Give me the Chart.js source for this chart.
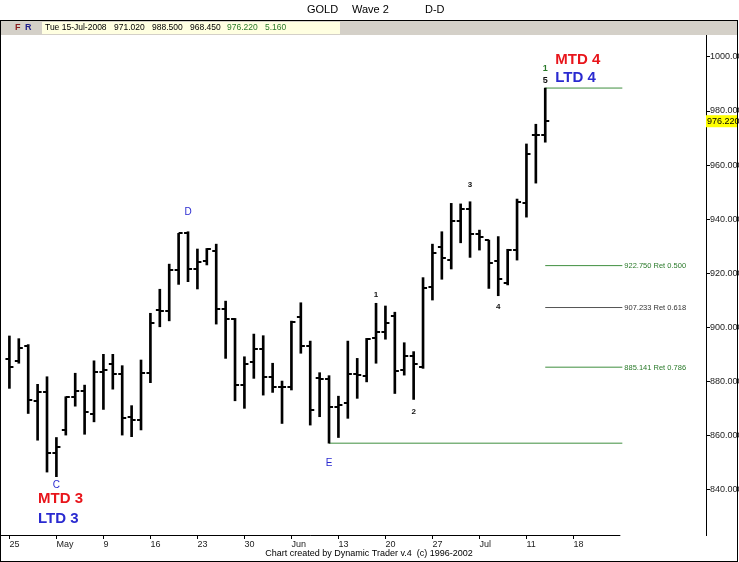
<!DOCTYPE html>
<html>
<head>
<meta charset="utf-8">
<script src="https://cdn.jsdelivr.net/npm/chart.js@4.4.1/dist/chart.umd.min.js"></script>
<style>
  html, body { margin: 0; padding: 0; background: #fff; }
  #wrap { width: 739px; height: 562px; position: relative; }
</style>
</head>
<body>
<div id="wrap"><canvas id="gold" width="739" height="562"></canvas></div>
<script>
// Daily bars, 25-Apr-2008 .. 15-Jul-2008
const dates = [
    '25-Apr', '28-Apr', '29-Apr', '30-Apr', '01-May', '02-May',
    '05-May', '06-May', '07-May', '08-May', '09-May',
    '12-May', '13-May', '14-May', '15-May', '16-May',
    '19-May', '20-May', '21-May', '22-May', '23-May',
    '26-May', '27-May', '28-May', '29-May', '30-May',
    '02-Jun', '03-Jun', '04-Jun', '05-Jun', '06-Jun',
    '09-Jun', '10-Jun', '11-Jun', '12-Jun', '13-Jun',
    '16-Jun', '17-Jun', '18-Jun', '19-Jun', '20-Jun',
    '23-Jun', '24-Jun', '25-Jun', '26-Jun', '27-Jun',
    '30-Jun', '01-Jul', '02-Jul', '03-Jul', '04-Jul',
    '07-Jul', '08-Jul', '09-Jul', '10-Jul', '11-Jul',
    '14-Jul', '15-Jul'
];
const opens = [
    888.0, 887.5, 893.0, 872.7, 875.9, 853.4,
    861.9, 874.0, 876.4, 867.7, 883.5,
    886.2, 882.5, 866.8, 865.6, 883.0,
    906.5, 906.0, 921.1, 934.7, 921.4,
    924.6, 928.1, 906.6, 902.9, 878.6,
    887.2, 891.7, 881.6, 877.7, 877.9,
    903.8, 893.0, 881.2, 880.6, 870.5,
    871.7, 882.5, 882.0, 895.8, 898.3,
    904.1, 884.1, 889.3, 885.3, 914.9,
    929.5, 925.0, 939.4, 943.7, 934.3,
    932.2, 924.6, 916.2, 928.5, 946.1,
    971.0, 971.02
];
const highs = [
    896.7, 895.7, 893.5, 878.8, 881.6, 859.1,
    874.2, 882.9, 878.5, 887.5, 889.9,
    889.9, 885.7, 870.9, 887.8, 905.1,
    914.0, 923.3, 934.7, 935.3, 928.9,
    929.1, 930.7, 909.6, 903.2, 889.0,
    897.4, 896.8, 886.6, 880.0, 902.2,
    909.0, 894.8, 883.1, 882.0, 874.4,
    894.8, 888.4, 895.8, 908.8, 907.8,
    905.5, 894.2, 890.9, 918.3, 930.7,
    935.3, 945.8, 945.6, 946.4, 935.9,
    932.2, 933.5, 928.8, 947.4, 967.8,
    975.1, 988.5
];
const lows = [
    877.3, 886.6, 868.0, 858.1, 846.3, 844.6,
    860.0, 870.7, 860.3, 864.9, 869.5,
    877.0, 860.0, 859.4, 861.9, 879.4,
    900.1, 902.3, 915.8, 916.8, 914.1,
    923.0, 901.1, 888.4, 872.7, 869.9,
    881.0, 874.8, 875.8, 864.3, 876.7,
    890.3, 863.7, 866.8, 857.0, 859.1,
    866.2, 873.6, 879.7, 886.6, 895.5,
    875.4, 882.2, 873.2, 884.7, 910.0,
    917.7, 921.5, 931.2, 925.8, 928.5,
    914.3, 911.6, 915.6, 924.8, 940.7,
    953.3, 968.45
];
const closes = [
    885.2, 892.3, 872.9, 875.9, 853.4, 855.6,
    874.0, 876.4, 868.4, 883.2, 884.0,
    882.5, 866.4, 865.6, 883.0, 901.4,
    906.0, 921.1, 934.7, 921.4, 924.2,
    928.8, 906.6, 902.9, 878.6, 886.3,
    891.7, 881.5, 877.7, 877.9, 901.7,
    893.0, 869.3, 880.6, 870.3, 871.0,
    882.5, 882.1, 895.7, 898.3, 901.4,
    883.8, 889.3, 886.2, 914.6, 927.3,
    925.4, 939.4, 943.7, 934.3, 933.4,
    923.6, 917.8, 928.5, 946.2, 964.0,
    971.0, 976.22
];
const netChange = 5.160;

// Friday ticks on the date axis
const tickIdx = [0, 5, 10, 15, 20, 25, 30, 35, 40, 45, 50, 55, 60];
const tickLabels = ['25', 'May', '9', '16', '23', '30', 'Jun', '13', '20', '27', 'Jul', '11', '18'];
const priceTicks = [840, 860, 880, 900, 920, 940, 960, 980, 1000];

// Swing E (low) to wave 5 (high) and its retracements
const swingLow = 857.0;
const swingHigh = 988.5;
const retLevels = [922.750, 907.233, 885.141];
const retRatios = ['0.500', '0.618', '0.786'];

const BLUE = '#2a2ad0';
const RED = '#e8151b';
const GREEN = '#3f8f3f';

function tickImg(left) {
    const c = document.createElement('canvas');
    c.width = 10; c.height = 2;
    const g = c.getContext('2d');
    g.fillStyle = '#000';
    g.fillRect(left ? 1 : 5, 0, 4, 2);
    return c;
}

function hline(y, x0, x1, color) {
    return {
        type: 'line',
        data: [{ x: x0, y: y }, { x: x1, y: y }],
        borderColor: color,
        borderWidth: 1,
        pointRadius: 0,
        fill: false
    };
}

const lineEnd = 65.2;

const datasets = [
    {
        type: 'bar',
        data: highs.map((h, i) => ({ x: i, y: [lows[i], h] })),
        backgroundColor: '#000',
        barThickness: 2
    },
    {
        type: 'scatter',
        data: opens.map((v, i) => ({ x: i, y: v })),
        pointStyle: tickImg(true)
    },
    {
        type: 'scatter',
        data: closes.map((v, i) => ({ x: i, y: v })),
        pointStyle: tickImg(false)
    },
    hline(swingHigh, 57, lineEnd, GREEN),
    hline(swingLow, 34, lineEnd, GREEN),
    hline(retLevels[0], 57, lineEnd, GREEN),
    hline(retLevels[1], 57, lineEnd, '#555'),
    hline(retLevels[2], 57, lineEnd, GREEN)
];

// wave labels: index, price, pixel offset, text, colour, font
const marks = [
    { i: 5, v: lows[5], dy: 9, t: 'C', c: BLUE, f: '10px "Liberation Sans"' },
    { i: 19, v: highs[19], dy: -19, t: 'D', c: BLUE, f: '10px "Liberation Sans"' },
    { i: 34, v: lows[34], dy: 20, t: 'E', c: BLUE, f: '10px "Liberation Sans"' },
    { i: 39, v: highs[39], dy: -8, t: '1', c: '#111', f: 'bold 8px "Liberation Sans"' },
    { i: 43, v: lows[43], dy: 12, t: '2', c: '#111', f: 'bold 8px "Liberation Sans"' },
    { i: 49, v: highs[49], dy: -17, t: '3', c: '#111', f: 'bold 8px "Liberation Sans"' },
    { i: 52, v: lows[52], dy: 11, t: '4', c: '#111', f: 'bold 8px "Liberation Sans"' },
    { i: 57, v: highs[57], dy: -20, t: '1', c: '#2a7a2a', f: 'bold 9px "Liberation Sans"' },
    { i: 57, v: highs[57], dy: -8, t: '5', c: '#111', f: 'bold 9px "Liberation Sans"' }
];

const overlay = {
    id: 'overlay',
    afterDraw(chart) {
        const ctx = chart.ctx;
        const xs = chart.scales.x;
        const ys = chart.scales.y;
        const area = chart.chartArea;
        ctx.save();

        // x axis line
        ctx.strokeStyle = '#000';
        ctx.lineWidth = 1;
        ctx.beginPath();
        ctx.moveTo(area.left, area.bottom + 0.5);
        ctx.lineTo(xs.getPixelForValue(lineEnd) - 2, area.bottom + 0.5);
        ctx.stroke();

        // wave labels
        ctx.textAlign = 'center';
        ctx.textBaseline = 'middle';
        marks.forEach(m => {
            ctx.font = m.f;
            ctx.fillStyle = m.c;
            ctx.fillText(m.t, xs.getPixelForValue(m.i), ys.getPixelForValue(m.v) + m.dy);
        });

        // MTD / LTD
        ctx.textAlign = 'left';
        ctx.font = 'bold 15px "Liberation Sans"';
        const x3 = 38;
        const y3 = ys.getPixelForValue(lows[5]);
        ctx.fillStyle = RED;  ctx.fillText('MTD 3', x3, y3 + 22);
        ctx.fillStyle = BLUE; ctx.fillText('LTD 3', x3, y3 + 42);
        const x4 = xs.getPixelForValue(57) + 10;
        const y4 = ys.getPixelForValue(highs[57]);
        ctx.fillStyle = RED;  ctx.fillText('MTD 4', x4, y4 - 28);
        ctx.fillStyle = BLUE; ctx.fillText('LTD 4', x4, y4 - 10);

        // retracement labels
        ctx.font = '7.5px "Liberation Sans"';
        retLevels.forEach((lv, k) => {
            ctx.fillStyle = k === 1 ? '#333' : '#2a7a2a';
            ctx.fillText(lv.toFixed(3) + ' Ret ' + retRatios[k],
                xs.getPixelForValue(lineEnd) + 2, ys.getPixelForValue(lv) + 0.5);
        });

        // last price box on the price axis
        const last = closes.length - 1;
        const yl = ys.getPixelForValue(closes[last]);
        ctx.fillStyle = '#ffff00';
        ctx.fillRect(area.right, yl - 6, 32, 12);
        ctx.fillStyle = '#000';
        ctx.font = '9px "Liberation Sans"';
        ctx.fillText(closes[last].toFixed(3), area.right + 1, yl);

        // header band
        ctx.fillStyle = '#d4d0c8';
        ctx.fillRect(1, 21, 736, 14);
        ctx.fillStyle = '#ffffe1';
        ctx.fillRect(42, 22, 298, 12);
        ctx.font = 'bold 9px "Liberation Sans"';
        ctx.fillStyle = '#8b1c1c'; ctx.fillText('F', 15, 28);
        ctx.fillStyle = '#1c1c8b'; ctx.fillText('R', 25, 28);
        ctx.font = '8.5px "Liberation Sans"';
        const fields = [
            ['Tue 15-Jul-2008', 45, '#000'],
            [opens[last].toFixed(3), 114, '#000'],
            [highs[last].toFixed(3), 152, '#000'],
            [lows[last].toFixed(3), 190, '#000'],
            [closes[last].toFixed(3), 227, '#2a7a2a'],
            [netChange.toFixed(3), 265, '#2a7a2a']
        ];
        fields.forEach(f => { ctx.fillStyle = f[2]; ctx.fillText(f[0], f[1], 28); });

        // title
        ctx.fillStyle = '#000';
        ctx.font = '11px "Liberation Sans"';
        ctx.fillText('GOLD', 307, 10);
        ctx.fillText('Wave 2', 352, 10);
        ctx.fillText('D-D', 425, 10);

        // credit
        ctx.textAlign = 'center';
        ctx.font = '9px "Liberation Sans"';
        ctx.fillText('Chart created by Dynamic Trader v.4  (c) 1996-2002', 369, 554);

        // frame
        ctx.strokeStyle = '#000';
        ctx.lineWidth = 1;
        ctx.strokeRect(0.5, 20.5, 737, 541);
        ctx.restore();
    }
};

new Chart(document.getElementById('gold'), {
    type: 'bar',
    data: { datasets: datasets },
    plugins: [overlay],
    options: {
        responsive: false,
        animation: false,
        events: [],
        layout: { autoPadding: false, padding: { top: 20, left: 0, right: 0, bottom: 0 } },
        plugins: { legend: { display: false }, tooltip: { enabled: false } },
        scales: {
            x: {
                type: 'linear',
                min: -1,
                max: 74.1,
                offset: false,
                grid: { drawOnChartArea: false, offset: false, tickLength: 4, color: '#000' },
                border: { display: false },
                afterBuildTicks: s => { s.ticks = tickIdx.map(v => ({ value: v })); },
                afterFit: s => { s.height = 27; s.paddingLeft = 0; s.paddingRight = 0; },
                ticks: {
                    align: 'start',
                    padding: 0,
                    maxRotation: 0,
                    autoSkip: false,
                    color: '#222',
                    font: { family: 'Liberation Sans', size: 9 },
                    callback: v => tickLabels[tickIdx.indexOf(v)]
                }
            },
            y: {
                position: 'right',
                min: 823,
                max: 1013.7,
                grid: { drawOnChartArea: false, tickLength: 4, color: '#000' },
                border: { display: true, color: '#000' },
                afterBuildTicks: s => { s.ticks = priceTicks.map(v => ({ value: v })); },
                afterFit: s => { s.width = 33; s.paddingTop = 0; s.paddingBottom = 0; },
                ticks: {
                    padding: 0,
                    color: '#222',
                    font: { family: 'Liberation Sans', size: 9 },
                    callback: v => v.toFixed(3)
                }
            }
        }
    }
});
</script>
</body>
</html>
